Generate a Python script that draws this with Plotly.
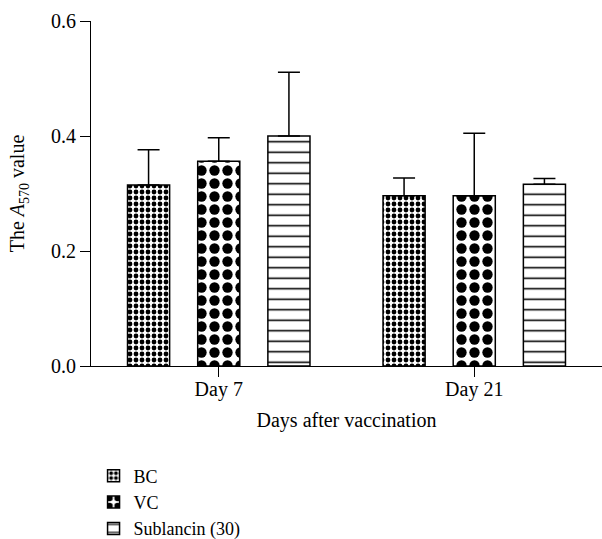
import plotly.graph_objects as go

days = ["Day 7", "Day 21"]
series = ["BC", "VC", "Sublancin (30)"]
bc_vals = [0.315, 0.296]
bc_err = [0.061, 0.031]
vc_vals = [0.356, 0.296]
vc_err = [0.041, 0.109]
sub_vals = [0.400, 0.316]
sub_err = [0.111, 0.010]

y_ticks = [0.0, 0.2, 0.4, 0.6]
y_ticklabels = ["0.0", "0.2", "0.4", "0.6"]

FONT = "Liberation Serif"
FS = 20

patterns = [
    dict(shape=".", size=6, solidity=0.5, fgcolor="black", fgopacity=1, bgcolor="white", fillmode="overlay"),
    dict(shape=".", size=13, solidity=0.5, fgcolor="black", fgopacity=1, bgcolor="white", fillmode="overlay"),
    dict(shape="-", size=10.5, solidity=0.15, fgcolor="black", fgopacity=1, bgcolor="white", fillmode="overlay"),
]

fig = go.Figure()
for name, vals, errs, pat in zip(series, [bc_vals, vc_vals, sub_vals], [bc_err, vc_err, sub_err], patterns):
    fig.add_trace(go.Bar(
        x=days, y=vals, name=name,
        marker=dict(color="white", line=dict(color="black", width=1.5), pattern=pat),
        error_y=dict(type="data", array=errs, arrayminus=[0] * len(errs), symmetric=False,
                     color="black", thickness=1.5, width=11),
    ))

fig.update_layout(
    width=602, height=539,
    margin=dict(l=91, r=0, t=21, b=173, autoexpand=False),
    paper_bgcolor="white", plot_bgcolor="white",
    font=dict(family=FONT, size=FS, color="black"),
    barmode="group", bargap=0.176, bargroupgap=0.4,
    showlegend=True,
    legend=dict(x=0.005, xanchor="left", y=-0.265, yanchor="top",
                font=dict(family=FONT, size=18, color="black"), bgcolor="rgba(0,0,0,0)"),
    xaxis=dict(range=[-0.5, 1.5], showline=True, linecolor="black", linewidth=1.2,
               ticks="outside", ticklen=10, tickwidth=1.2, tickcolor="black",
               ticklabelstandoff=-5,
               tickfont=dict(family=FONT, size=FS, color="black"),
               title=dict(text="Days after vaccination", font=dict(family=FONT, size=FS, color="black"), standoff=12),
               showgrid=False, zeroline=False),
    yaxis=dict(range=[0, 0.6], tickvals=y_ticks, ticktext=y_ticklabels,
               showline=True, linecolor="black", linewidth=1.2,
               ticks="outside", ticklen=10, tickwidth=1.2, tickcolor="black",
               tickfont=dict(family=FONT, size=FS, color="black"),
               title=dict(text="The <i>A</i><sub>570</sub> value", font=dict(family=FONT, size=FS, color="black"), standoff=20),
               showgrid=False, zeroline=False),
)

fig.write_html("out.html")
